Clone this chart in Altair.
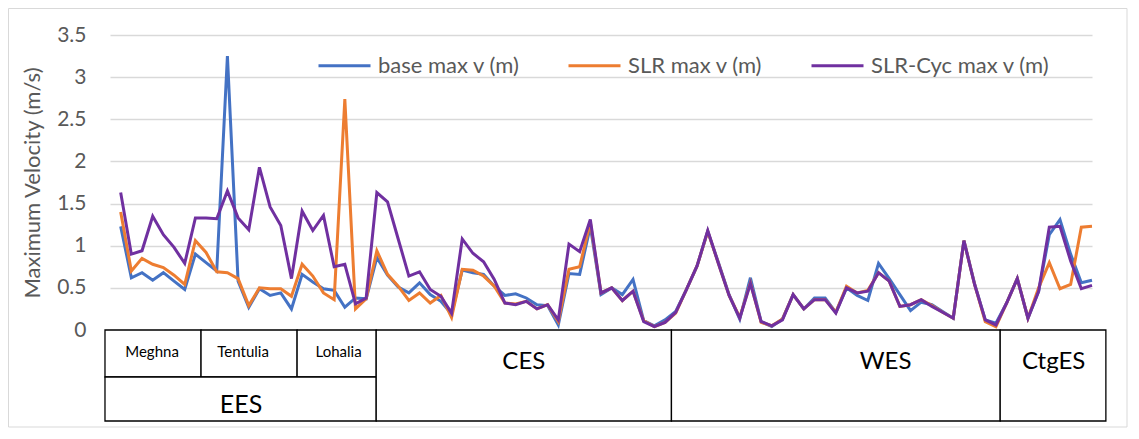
import altair as alt
import pandas as pd

# ---------------- data ----------------
station = list(range(1, 93))

base_v = [1.23, 0.62, 0.68, 0.59, 0.68, 0.58, 0.48, 0.90, 0.80, 0.70,
          3.25, 0.58, 0.27, 0.49, 0.41, 0.44, 0.25, 0.66, 0.57, 0.49,
          0.47, 0.27, 0.38, 0.37, 0.86, 0.65, 0.51, 0.44, 0.56, 0.42,
          0.34, 0.19, 0.71, 0.68, 0.66, 0.52, 0.41, 0.43, 0.38, 0.30,
          0.29, 0.06, 0.67, 0.66, 1.23, 0.42, 0.50, 0.42, 0.60, 0.11,
          0.05, 0.12, 0.22, 0.48, 0.76, 1.17, 0.80, 0.42, 0.13, 0.62,
          0.10, 0.04, 0.13, 0.42, 0.25, 0.38, 0.38, 0.21, 0.50, 0.41,
          0.35, 0.79, 0.61, 0.42, 0.23, 0.33, 0.30, 0.22, 0.14, 1.06,
          0.55, 0.12, 0.08, 0.32, 0.61, 0.14, 0.46, 1.13, 1.31, 0.90,
          0.56, 0.59]

slr_v = [1.40, 0.70, 0.85, 0.78, 0.74, 0.65, 0.54, 1.06, 0.92, 0.69,
         0.68, 0.61, 0.29, 0.50, 0.49, 0.49, 0.40, 0.78, 0.64, 0.44,
         0.36, 2.74, 0.25, 0.37, 0.94, 0.66, 0.52, 0.35, 0.44, 0.32,
         0.41, 0.15, 0.72, 0.71, 0.64, 0.52, 0.32, 0.31, 0.34, 0.25,
         0.30, 0.10, 0.72, 0.75, 1.28, 0.44, 0.50, 0.35, 0.46, 0.11,
         0.04, 0.09, 0.20, 0.48, 0.76, 1.17, 0.79, 0.41, 0.15, 0.56,
         0.09, 0.05, 0.13, 0.42, 0.25, 0.36, 0.36, 0.21, 0.52, 0.44,
         0.47, 0.68, 0.58, 0.28, 0.30, 0.36, 0.29, 0.21, 0.14, 1.06,
         0.54, 0.10, 0.04, 0.32, 0.61, 0.14, 0.50, 0.80, 0.49, 0.54,
         1.22, 1.23]

cyc_v = [1.63, 0.90, 0.94, 1.35, 1.13, 0.98, 0.79, 1.33, 1.33, 1.32,
         1.65, 1.33, 1.19, 1.93, 1.46, 1.24, 0.61, 1.41, 1.18, 1.36,
         0.75, 0.78, 0.31, 0.38, 1.63, 1.52, 1.08, 0.64, 0.69, 0.48,
         0.40, 0.20, 1.08, 0.91, 0.81, 0.60, 0.32, 0.30, 0.34, 0.25,
         0.30, 0.12, 1.02, 0.93, 1.31, 0.44, 0.50, 0.35, 0.46, 0.10,
         0.04, 0.09, 0.21, 0.48, 0.76, 1.18, 0.79, 0.41, 0.14, 0.55,
         0.10, 0.05, 0.12, 0.42, 0.25, 0.36, 0.36, 0.20, 0.50, 0.44,
         0.46, 0.68, 0.58, 0.28, 0.30, 0.36, 0.28, 0.21, 0.14, 1.06,
         0.54, 0.12, 0.06, 0.32, 0.61, 0.14, 0.46, 1.22, 1.23, 0.82,
         0.49, 0.53]

series_names = ["base max v (m)", "SLR max v (m)", "SLR-Cyc max v (m)"]
series_colors = ["#4472C4", "#ED7D31", "#7030A0"]

y_ticks = [0, 0.5, 1, 1.5, 2, 2.5, 3, 3.5]
x_grid = [0, 10, 20, 30, 40, 50, 60, 70, 80, 90]

# group boxes below the axis (in station units)
sub_names = ["Meghna", "Tentulia", "Lohalia"]
sub_start = [-0.47, 8.53, 17.53]
sub_end = [8.53, 17.53, 24.94]
sub_label = [3.94, 12.47, 21.42]

main_names = ["CES", "WES", "CtgES"]
main_start = [24.94, 52.6, 83.4]
main_end = [52.6, 83.4, 93.3]
main_label = [38.77, 72.66, 88.4]

ees_name = ["EES"]
ees_start = [-0.47]
ees_end = [24.94]
ees_label = [12.28]

# ---------------- chart ----------------
df = pd.DataFrame({
    "station": station * 3,
    "v": base_v + slr_v + cyc_v,
    "series": [series_names[0]] * len(station)
    + [series_names[1]] * len(station)
    + [series_names[2]] * len(station),
})

FONT = "Lato"
GRID = "#d9d9d9"
TXT = "#595959"

x_scale = alt.Scale(domain=[0, 92], nice=False, zero=False)
y_scale = alt.Scale(domain=[0, 3.5], nice=False)
color_scale = alt.Scale(domain=series_names, range=series_colors)

x_axis = alt.Axis(values=x_grid, grid=True, labels=False, ticks=False,
                  domain=False, title=None, gridColor=GRID, gridWidth=1.5)
y_axis = alt.Axis(values=y_ticks, grid=True, ticks=False, tickSize=0,
                  domain=False, format="~g", labelFontSize=21,
                  labelColor=TXT, labelFont=FONT, labelPadding=24,
                  title="Maximum Velocity (m/s)", titleFontSize=22,
                  titleFont=FONT, titleColor=TXT, titleFontWeight="normal",
                  titlePadding=12, gridColor=GRID, gridWidth=1.5)

legend = alt.Legend(orient="none", legendX=207, legendY=3,
                    direction="horizontal", title=None, symbolType="stroke",
                    symbolSize=2704, symbolStrokeWidth=3, labelFontSize=22,
                    labelFont=FONT, labelColor=TXT, labelOffset=6,
                    labelLimit=400, columnPadding=42, padding=0)


def series_layer(name):
    return alt.Chart(df).transform_filter(
        alt.datum.series == name
    ).mark_line(strokeWidth=3).encode(
        x=alt.X("station:Q", scale=x_scale, axis=x_axis),
        y=alt.Y("v:Q", scale=y_scale, axis=y_axis),
        color=alt.Color("series:N", scale=color_scale, legend=legend),
    )


frame = alt.Chart(pd.DataFrame({"k": [0]})).mark_rect(
    fillOpacity=0, stroke=GRID, strokeWidth=1
).encode(x=alt.value(-101.5), x2=alt.value(1017), y=alt.value(-26.5), y2=alt.value(392))

sub_df = pd.DataFrame({"name": sub_names, "start": sub_start, "end": sub_end, "lx": sub_label})
main_df = pd.DataFrame({"name": main_names, "start": main_start, "end": main_end, "lx": main_label})
ees_df = pd.DataFrame({"name": ees_name, "start": ees_start, "end": ees_end, "lx": ees_label})


def boxes(d, y0, y1):
    return alt.Chart(d).mark_rect(fill="white", stroke="black", strokeWidth=1.3).encode(
        x=alt.X("start:Q", scale=x_scale, axis=None),
        x2="end:Q",
        y=alt.value(y0),
        y2=alt.value(y1),
    )


def labels(d, yc, size):
    return alt.Chart(d).mark_text(fontSize=size, font=FONT, color="black",
                                  baseline="middle", align="center").encode(
        x=alt.X("lx:Q", scale=x_scale, axis=None),
        y=alt.value(yc),
        text="name:N",
    )


chart = alt.layer(
    frame,
    series_layer(series_names[0]),
    series_layer(series_names[1]),
    series_layer(series_names[2]),
    boxes(sub_df, 295, 342),
    boxes(ees_df, 342, 386),
    boxes(main_df, 295, 386),
    labels(sub_df, 317, 15),
    labels(ees_df, 370, 25),
    labels(main_df, 327, 24),
).properties(
    width=982,
    height=295,
    padding={"left": 102, "top": 27, "right": 36, "bottom": 98},
    autosize=alt.AutoSizeParams(type="none"),
    background="white",
).configure_view(strokeWidth=0)

chart.save("out.html", embed_options={"renderer": "svg", "actions": False})
